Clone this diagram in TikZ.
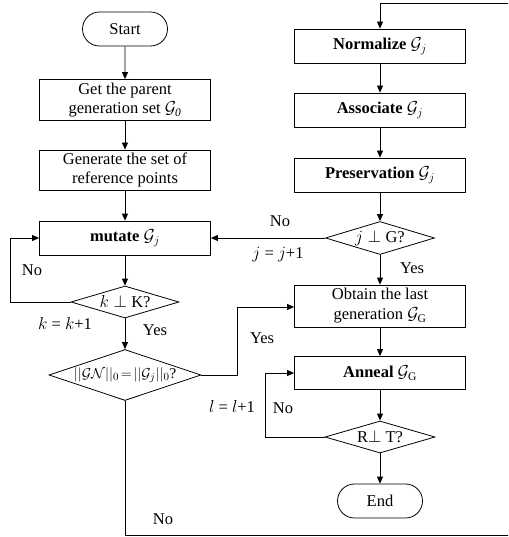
\documentclass[tikz,border=0pt]{standalone}
\usepackage{fontspec}
\setmainfont{Liberation Serif}
\usetikzlibrary{shapes.geometric,shapes.misc,arrows.meta}
\newcommand{\cG}{\mathcal{G}}
\begin{document}
\begin{tikzpicture}[x=1pt,y=-1pt,
  font=\fontsize{16.5}{19}\selectfont,
  line width=0.8pt,
  arr/.style={-{Triangle[length=7pt,width=6pt]}},
  procbox/.style={draw,rectangle,minimum width=171pt,inner sep=0pt,align=center},
  term/.style={draw,rounded rectangle,minimum width=85pt,minimum height=34pt,inner sep=0pt},
  decis/.style={draw,diamond,inner sep=0pt},
  lbl/.style={inner sep=0pt}]
\useasboundingbox (0,0) rectangle (508,537);
\clip (0,0) rectangle (508,537);
% left column
\node[term] (start) at (125,29) {Start};
\node[procbox,minimum height=41pt] (parent) at (125,100) {Get the parent\\generation set $\cG_{\mathit{0}}$};
\node[procbox,minimum height=40pt] (gen) at (125,170) {Generate the set of\\reference points};
\node[procbox,minimum height=34pt] (mut) at (125,238) {\textbf{mutate} $\cG_j$};
\node[decis,minimum width=108pt,minimum height=32pt] (kd) at (125,302) {};
\node[lbl] at (kd) {$k\perp$\ K?};
\node[decis,minimum width=152pt,minimum height=51pt] (gn) at (125,375) {};
\node[lbl,font=\fontsize{15}{17}\selectfont] at (gn) {$||\cG\mathcal{N}||_0\!=\!||\cG_j||_0$?};
% right column
\node[procbox,minimum height=34pt] (norm) at (380,46) {\textbf{Normalize} $\cG_j$};
\node[procbox,minimum height=34pt] (assoc) at (380,110) {\textbf{Associate} $\cG_j$};
\node[procbox,minimum height=34pt] (pres) at (380,175) {\textbf{Preservation} $\cG_j$};
\node[decis,minimum width=109pt,minimum height=33pt] (jd) at (380,238) {};
\node[lbl] at (jd) {$j\perp$\ G?};
\node[procbox,minimum height=42pt,font=\fontsize{16.5}{20}\selectfont] (obt) at (380,306) {Obtain the last\\generation $\cG_{\mathrm{G}}$};
\node[procbox,minimum height=33pt] (ann) at (380,373) {\textbf{Anneal} $\cG_{\mathrm{G}}$};
\node[decis,minimum width=110pt,minimum height=32pt] (rd) at (380,437) {};
\node[lbl] at (rd) {R$\perp$\ T?};
\node[term] (end) at (380,501) {End};
% coordinates
\coordinate (kl) at (10,302);
\coordinate (gr) at (237,375);
\coordinate (gu) at (237,307);
\coordinate (gb) at (125,535);
\coordinate (br) at (515,535);
\coordinate (tr) at (515,3);
\coordinate (tn) at (380,3);
\coordinate (rl) at (265,437);
% connectors
\draw[arr] (start) -- (parent);
\draw[arr] (parent) -- (gen);
\draw[arr] (gen) -- (mut);
\draw[arr] (mut) -- (kd);
\draw[arr] (kd.west) -- (kl) |- (mut.west);
\draw[arr] (kd) -- (gn);
\draw[arr] (gn.east) -- (gr) -- (gu) -- (gu -| obt.west);
\draw[arr] (gn.south) -- (gb) -- (br) -- (tr) -- (tn) -- (norm.north);
\draw[arr] (norm) -- (assoc);
\draw[arr] (assoc) -- (pres);
\draw[arr] (pres) -- (jd);
\draw[arr] (jd.west) -- (mut.east);
\draw[arr] (jd) -- (obt);
\draw[arr] (obt) -- (ann);
\draw[arr] (ann) -- (rd);
\draw[arr] (rd.west) -- (rl) |- (ann.west);
\draw[arr] (rd) -- (end);
% labels
\node[lbl] at (32,270) {No};
\node[lbl] at (65,323) {$k$ = $k$+1};
\node[lbl] at (155,330) {Yes};
\node[lbl] at (262,338) {Yes};
\node[lbl] at (163,519) {No};
\node[lbl] at (280,221) {No};
\node[lbl] at (278,255) {$j$ = $j$+1};
\node[lbl] at (412,268) {Yes};
\node[lbl] at (283,408) {No};
\node[lbl] at (232,406) {$l$ = $l$+1};
\end{tikzpicture}
\end{document}
